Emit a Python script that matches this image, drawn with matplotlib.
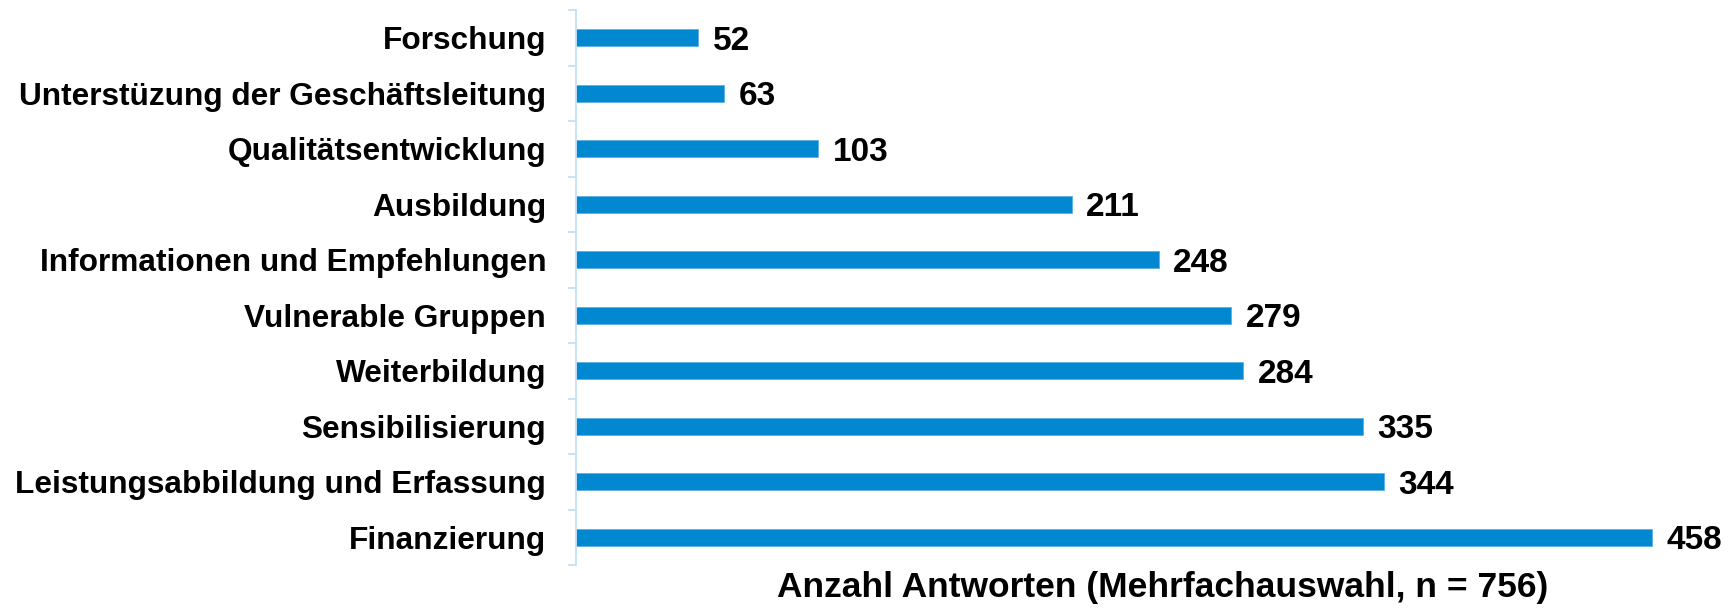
import matplotlib
matplotlib.use("Agg")
import matplotlib.pyplot as plt
import numpy as np

# Kategorien von oben nach unten
categories = [
    "Forschung",
    "Unterstüzung der Geschäftsleitung",
    "Qualitätsentwicklung",
    "Ausbildung",
    "Informationen und Empfehlungen",
    "Vulnerable Gruppen",
    "Weiterbildung",
    "Sensibilisierung",
    "Leistungsabbildung und Erfassung",
    "Finanzierung",
]
counts = [52, 63, 103, 211, 248, 279, 284, 335, 344, 458]
x_label = "Anzahl Antworten (Mehrfachauswahl, n = 756)"

bar_color = "#0288d1"
axis_color = "#c5dff3"

plt.rcParams["font.family"] = ["Liberation Sans", "DejaVu Sans"]
plt.rcParams["font.weight"] = "bold"

fig = plt.figure(figsize=(17.29, 6.08), dpi=100)
ax = fig.add_axes([576 / 1729, 43 / 608, 1124 / 1729, 555 / 608])

y = np.arange(len(categories))
ax.barh(y, counts, height=0.31, color=bar_color, edgecolor="#5bb0e3", linewidth=0.6)
for yi, c in zip(y, counts):
    ax.annotate(str(c), xy=(c, yi), xytext=(10.5, 0), textcoords="offset points",
                ha="left", va="center_baseline", fontsize=24, fontweight="bold",
                color="black")

ax.set_xlim(0, 478.5)
ax.set_ylim(len(categories) - 0.5, -0.5)

# Kategorienbeschriftung ohne Striche, Trennstriche zwischen den Kategorien
ax.set_yticks(y)
ax.set_yticklabels(categories, fontsize=22.75, fontweight="bold")
ax.tick_params(axis="y", which="major", length=0, pad=21.5)
ax.set_yticks(np.arange(-0.5, len(categories)), minor=True)
ax.tick_params(axis="y", which="minor", length=6, width=1.3, color=axis_color)

ax.set_xticks([])
for side in ("top", "right", "bottom"):
    ax.spines[side].set_visible(False)
ax.spines["left"].set_color(axis_color)
ax.spines["left"].set_linewidth(1.3)

ax.set_xlabel(x_label, fontsize=25.5, fontweight="bold", va="baseline")
ax.xaxis.set_label_coords(587 / 1124, -32 / 555)

fig.savefig("out.png", dpi=100, facecolor="white")
